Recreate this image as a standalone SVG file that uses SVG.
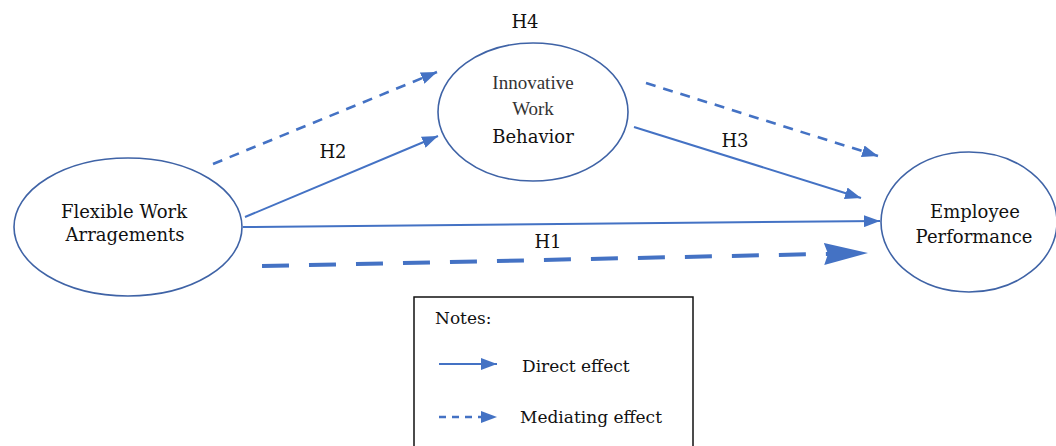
<svg xmlns="http://www.w3.org/2000/svg" width="1056" height="446" viewBox="0 0 1056 446">
  <style>
    .node { fill: #ffffff; stroke: #3F63A6; stroke-width: 1.6; }
    .lbl { font-family: "DejaVu Serif", "Liberation Serif", serif; font-size: 18px; fill: #111; text-anchor: middle; }
    .lbl2 { font-family: "Liberation Serif", serif; font-size: 19px; fill: #333; text-anchor: middle; }
    .leg { font-family: "DejaVu Serif", "Liberation Serif", serif; font-size: 17px; fill: #111; }
    .direct { stroke: #4472C4; stroke-width: 2; fill: none; marker-end: url(#ah); }
    .med { stroke: #4472C4; stroke-width: 2.6; fill: none; stroke-dasharray: 10 8; marker-end: url(#ah); }
    .medbig { stroke: #4472C4; stroke-width: 4; fill: none; stroke-dasharray: 27 20; marker-end: url(#ahbig); }
  </style>
  <defs>
    <marker id="ah" markerUnits="userSpaceOnUse" markerWidth="16" markerHeight="12" refX="16" refY="6" orient="auto">
      <path d="M0,0 L16,6 L0,12 Z" fill="#4472C4"/>
    </marker>
    <marker id="ahbig" markerUnits="userSpaceOnUse" markerWidth="44" markerHeight="22" refX="44" refY="11" orient="auto">
      <path d="M0,0 L44,11 L0,22 L4,11 Z" fill="#4472C4"/>
    </marker>
  </defs>

  <g id="connectors">
    <line class="med" x1="213" y1="164" x2="437" y2="72"/>
    <line class="direct" x1="245" y1="217" x2="438" y2="136"/>
    <line class="med" x1="646" y1="83" x2="878" y2="156"/>
    <line class="direct" x1="634" y1="127" x2="861" y2="198"/>
    <line class="direct" x1="243" y1="227" x2="880" y2="221"/>
    <line class="medbig" x1="262" y1="266" x2="868" y2="253"/>
    <text class="lbl" x="333" y="158">H2</text>
    <text class="lbl" x="735" y="147">H3</text>
    <text class="lbl" x="548" y="248">H1</text>
    <text class="lbl" x="525" y="28">H4</text>
  </g>

  <g id="flexible-work-arrangements">
    <ellipse class="node" cx="128" cy="227" rx="114" ry="69"/>
    <text class="lbl" x="124" y="218">Flexible Work</text>
    <text class="lbl" x="125" y="241">Arragements</text>
  </g>

  <g id="innovative-work-behavior">
    <ellipse class="node" cx="533" cy="112" rx="95" ry="69"/>
    <text class="lbl2" x="533" y="89">Innovative</text>
    <text class="lbl2" x="533" y="115">Work</text>
    <text class="lbl" x="533" y="143">Behavior</text>
  </g>

  <g id="employee-performance">
    <ellipse class="node" cx="969" cy="222" rx="88" ry="70"/>
    <text class="lbl" x="975" y="218">Employee</text>
    <text class="lbl" x="974" y="243">Performance</text>
  </g>

  <g id="legend">
    <rect x="414" y="297" width="279" height="160" fill="#ffffff" stroke="#111" stroke-width="1.5"/>
    <text class="leg" x="435" y="324">Notes:</text>
    <line class="direct" x1="439" y1="364" x2="497" y2="364"/>
    <text class="leg" x="522" y="372">Direct effect</text>
    <line x1="439" y1="417" x2="483" y2="417" stroke="#4472C4" stroke-width="2.6" stroke-dasharray="7 6"/>
    <path d="M481,411 L497,417 L481,423 Z" fill="#4472C4"/>
    <text class="leg" x="520" y="423">Mediating effect</text>
  </g>
</svg>
